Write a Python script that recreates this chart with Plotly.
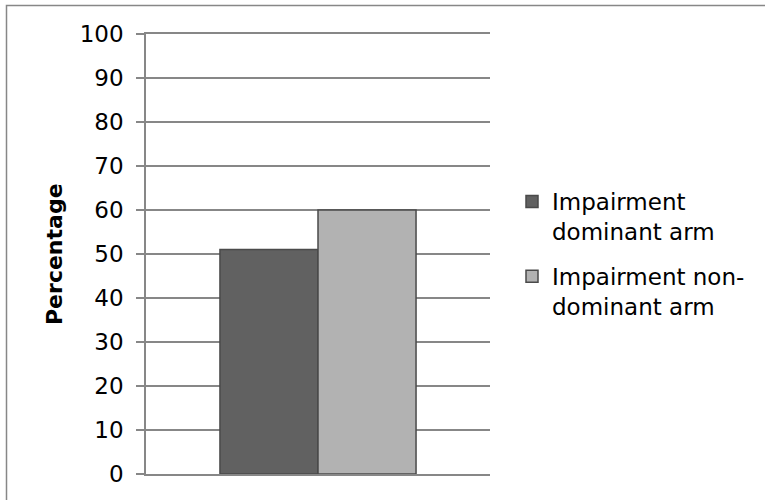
import plotly.graph_objects as go

# Share of participants with impairment, by arm
categories = [""]
series_names = ["Impairment<br>dominant arm", "Impairment non-<br>dominant arm"]
series_values = [[51], [60]]
series_colors = ["#616161", "#b2b2b2"]
tick_values = [0, 10, 20, 30, 40, 50, 60, 70, 80, 90, 100]

W, H = 765, 500
L, R, T, B = 146, 275, 34, 26
FONT = "DejaVu Sans"
GRID = "#878787"

fig = go.Figure()
for i, (name, vals, col) in enumerate(zip(series_names, series_values, series_colors)):
    fig.add_trace(go.Bar(
        x=categories, y=vals, name=name, legendgroup=f"g{i}",
        marker=dict(color=col, line=dict(color="#4a4a4a", width=1.5)),
    ))

plot_w = W - L - R
plot_h = H - T - B

def px_x(x):
    return (x - L) / plot_w

def px_y(y):
    return (H - B - y) / plot_h

fig.update_layout(
    width=W, height=H,
    margin=dict(l=L, r=R, t=T, b=B, pad=0),
    paper_bgcolor="white", plot_bgcolor="white",
    barmode="group", bargap=0.43, bargroupgap=0,
    font=dict(family=FONT, size=23, color="black"),
    showlegend=True,
    legend=dict(
        x=px_x(512), y=px_y(180), xanchor="left", yanchor="top",
        valign="top",
        font=dict(family=FONT, size=23, color="black"),
        bgcolor="rgba(0,0,0,0)", borderwidth=0,
        tracegroupgap=12,
    ),
    xaxis=dict(
        range=[-0.5, 0.5], showticklabels=False, showgrid=False,
        showline=True, mirror=True, linecolor=GRID, linewidth=1.5, ticks="",
        zeroline=False, fixedrange=True,
    ),
    yaxis=dict(
        range=[0, 100], tickvals=tick_values,
        ticktext=[str(v) for v in tick_values],
        showgrid=True, gridcolor=GRID, gridwidth=1.5,
        showline=True, linecolor=GRID, linewidth=1.5,
        ticks="outside", ticklen=8, tickcolor=GRID, tickwidth=1.5,
        ticklabelstandoff=8,
        tickfont=dict(family=FONT, size=23, color="black"),
        zeroline=False, fixedrange=True,
    ),
    annotations=[dict(
        text="<b>Percentage</b>", textangle=-90,
        xref="paper", yref="paper", x=px_x(54), y=0.5,
        xanchor="center", yanchor="middle", showarrow=False,
        font=dict(family=FONT, size=22, color="black"),
    )],
    shapes=[dict(
        type="rect", xref="paper", yref="paper",
        x0=px_x(6.5), y0=px_y(520), x1=px_x(800), y1=px_y(5.5),
        line=dict(color=GRID, width=1.5), fillcolor="rgba(0,0,0,0)",
        layer="below",
    )],
)

fig.write_html("out.html")
